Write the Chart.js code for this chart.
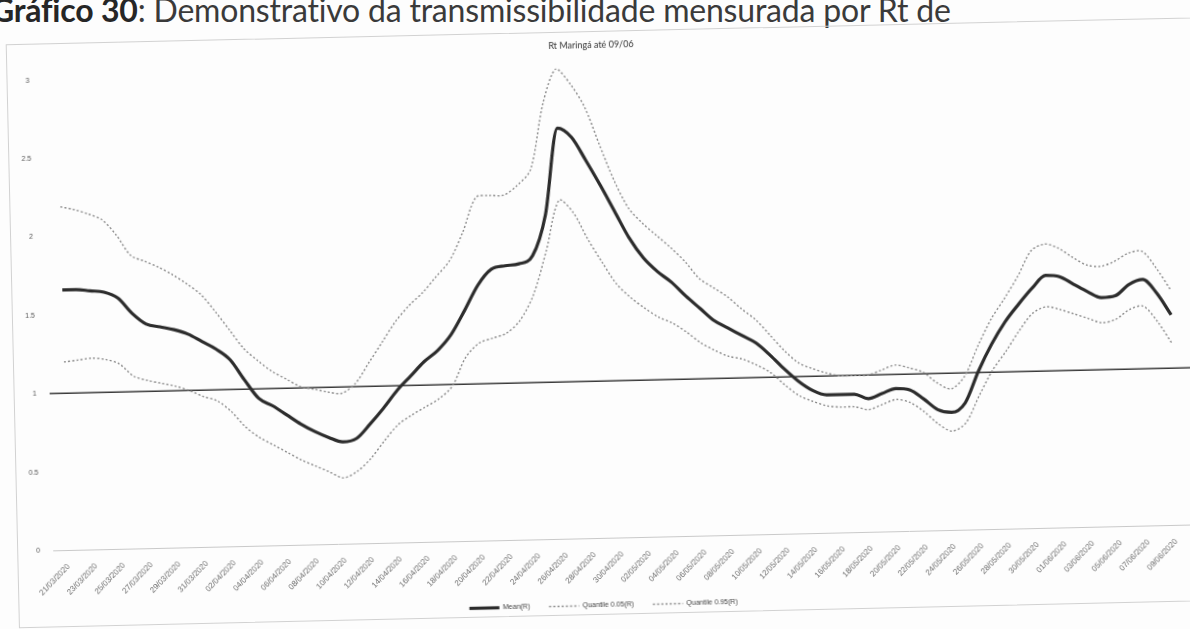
<!DOCTYPE html>
<html lang="pt-BR">
<head>
<meta charset="utf-8">
<title>Rt Maringá até 09/06</title>
<script src="https://cdn.jsdelivr.net/npm/chart.js@4.4.1/dist/chart.umd.min.js"></script>
<style>
  html, body { margin: 0; padding: 0; width: 1190px; height: 629px; overflow: hidden; background: #fdfdfd; }
  #page { position: relative; width: 1190px; height: 629px; overflow: hidden; background: #fdfdfd; }
  #cap { position: absolute; left: -9px; top: -10px; font-family: Lato, "Open Sans", sans-serif; font-size: 32px;
         color: #3a3a3a; white-space: nowrap; letter-spacing: -0.2px; }
  #cap b { font-weight: 700; color: #262626; }
  /* the printed sheet sits slightly tilted on the page */
  #sheet { position: absolute; left: 0; top: 0; width: 1190px; height: 629px;
           transform: rotate(-1.3deg); transform-origin: 595px 315px; }
  #frame { position: absolute; left: 12px; top: 31px; width: 1230px; height: 582px; border: 1px solid #d2d2d2; }
  #rt { position: absolute; left: 0; top: 0; }
</style>
</head>
<body>
<div id="page">
  <div id="cap"><b>Gráfico 30</b>: Demonstrativo da transmissibilidade mensurada por Rt de</div>
  <div id="sheet">
    <div id="frame"></div>
    <canvas id="rt" width="1190" height="629"></canvas>
  </div>
</div>
<script>
// Daily estimates, 21/03/2020 – 09/06/2020
const dates = [
  '21/03/2020','22/03/2020','23/03/2020','24/03/2020','25/03/2020','26/03/2020','27/03/2020','28/03/2020',
  '29/03/2020','30/03/2020','31/03/2020','01/04/2020','02/04/2020','03/04/2020','04/04/2020','05/04/2020',
  '06/04/2020','07/04/2020','08/04/2020','09/04/2020','10/04/2020','11/04/2020','12/04/2020','13/04/2020',
  '14/04/2020','15/04/2020','16/04/2020','17/04/2020','18/04/2020','19/04/2020','20/04/2020','21/04/2020',
  '22/04/2020','23/04/2020','24/04/2020','25/04/2020','26/04/2020','27/04/2020','28/04/2020','29/04/2020',
  '30/04/2020','01/05/2020','02/05/2020','03/05/2020','04/05/2020','05/05/2020','06/05/2020','07/05/2020',
  '08/05/2020','09/05/2020','10/05/2020','11/05/2020','12/05/2020','13/05/2020','14/05/2020','15/05/2020',
  '16/05/2020','17/05/2020','18/05/2020','19/05/2020','20/05/2020','21/05/2020','22/05/2020','23/05/2020',
  '24/05/2020','25/05/2020','26/05/2020','27/05/2020','28/05/2020','29/05/2020','30/05/2020','31/05/2020',
  '01/06/2020','02/06/2020','03/06/2020','04/06/2020','05/06/2020','06/06/2020','07/06/2020','08/06/2020',
  '09/06/2020'
];

const meanR = [
  1.66, 1.66, 1.65, 1.64, 1.60, 1.50, 1.43, 1.41, 1.39, 1.36,
  1.31, 1.26, 1.19, 1.06, 0.94, 0.89, 0.83, 0.77, 0.72, 0.68,
  0.65, 0.67, 0.76, 0.86, 0.97, 1.06, 1.15, 1.22, 1.32, 1.47,
  1.63, 1.73, 1.75, 1.76, 1.81, 2.07, 2.62, 2.56, 2.41, 2.25,
  2.08, 1.91, 1.78, 1.69, 1.62, 1.53, 1.45, 1.37, 1.32, 1.27,
  1.22, 1.14, 1.05, 0.97, 0.91, 0.88, 0.88, 0.88, 0.85, 0.88,
  0.91, 0.90, 0.84, 0.77, 0.75, 0.81, 1.01, 1.18, 1.32, 1.43,
  1.53, 1.61, 1.60, 1.55, 1.50, 1.46, 1.47, 1.54, 1.57, 1.48,
  1.34
];

const q05 = [
  1.20, 1.21, 1.22, 1.21, 1.18, 1.10, 1.07, 1.05, 1.03, 1.00,
  0.96, 0.93, 0.86, 0.76, 0.69, 0.64, 0.59, 0.54, 0.50, 0.46,
  0.42, 0.46, 0.54, 0.65, 0.75, 0.81, 0.86, 0.91, 0.99, 1.17,
  1.26, 1.29, 1.32, 1.40, 1.56, 1.84, 2.16, 2.08, 1.91, 1.76,
  1.62, 1.53, 1.46, 1.40, 1.36, 1.30, 1.23, 1.18, 1.14, 1.12,
  1.08, 1.03, 0.95, 0.88, 0.84, 0.81, 0.80, 0.80, 0.78, 0.81,
  0.84, 0.82, 0.76, 0.68, 0.63, 0.68, 0.85, 1.01, 1.13, 1.26,
  1.37, 1.41, 1.39, 1.36, 1.33, 1.30, 1.32, 1.38, 1.40, 1.30,
  1.16
];

const q95 = [
  2.19, 2.17, 2.14, 2.10, 2.00, 1.87, 1.83, 1.79, 1.74, 1.68,
  1.61, 1.50, 1.38, 1.26, 1.18, 1.11, 1.06, 1.01, 0.99, 0.97,
  0.96, 1.02, 1.15, 1.28, 1.41, 1.51, 1.59, 1.69, 1.79, 1.97,
  2.19, 2.20, 2.20, 2.26, 2.36, 2.78, 3.00, 2.90, 2.75, 2.51,
  2.28, 2.10, 2.00, 1.92, 1.84, 1.75, 1.64, 1.58, 1.52, 1.44,
  1.37, 1.27, 1.17, 1.09, 1.05, 1.02, 1.00, 1.00, 1.00, 1.03,
  1.06, 1.04, 1.01, 0.94, 0.90, 0.98, 1.17, 1.34, 1.47, 1.61,
  1.77, 1.81, 1.78, 1.72, 1.67, 1.66, 1.69, 1.74, 1.75, 1.64,
  1.50
];

const yTicks = [0, 0.5, 1, 1.5, 2, 2.5, 3];
const REF_LEVEL = 1;   // Rt = 1 threshold

// Baseline at zero and the Rt = 1 threshold, both running past the plotted span
const refLines = {
  id: 'refLines',
  beforeDatasetsDraw(chart) {
    const { ctx, chartArea, scales: { y } } = chart;
    ctx.save();
    const y0 = Math.round(y.getPixelForValue(0)) + 0.5;
    ctx.strokeStyle = '#c9c9c9';
    ctx.lineWidth = 1;
    ctx.beginPath();
    ctx.moveTo(chartArea.left - 15, y0);
    ctx.lineTo(chart.width, y0);
    ctx.stroke();

    const y1 = y.getPixelForValue(REF_LEVEL);
    ctx.strokeStyle = '#3a3a3a';
    ctx.lineWidth = 1.6;
    ctx.beginPath();
    ctx.moveTo(chartArea.left - 15, y1);
    ctx.lineTo(chart.width, y1);
    ctx.stroke();
    ctx.restore();
  }
};

const dotted = (label, data) => ({
  label, data,
  borderColor: '#8a8a8a',
  borderWidth: 1.4,
  borderDash: [2, 2.2],
  pointRadius: 0,
  tension: 0.3,
  fill: false
});

// legend samples take the line style of each series
const legendLabels = chart =>
  Chart.defaults.plugins.legend.labels.generateLabels(chart).map(item => {
    const ds = chart.data.datasets[item.datasetIndex];
    item.lineDash = ds.borderDash || [];
    item.lineWidth = ds.borderWidth;
    item.strokeStyle = ds.borderColor;
    item.fillStyle = ds.borderColor;
    return item;
  });

new Chart(document.getElementById('rt'), {
  type: 'line',
  data: {
    labels: dates,
    datasets: [
      {
        label: 'Mean(R)', data: meanR,
        borderColor: '#2c2c2c', borderWidth: 3.2,
        pointRadius: 0, cubicInterpolationMode: 'monotone', fill: false
      },
      dotted('Quantile 0.05(R)', q05),
      dotted('Quantile 0.95(R)', q95)
    ]
  },
  options: {
    responsive: false,
    animation: false,
    layout: { padding: { left: 23, right: 19, top: 30, bottom: 10 } },
    plugins: {
      title: {
        display: true, text: 'Rt Maringá até 09/06', color: '#333',
        font: { family: 'Lato, "Liberation Sans", sans-serif', size: 9, weight: 'normal' },
        padding: { top: 10, bottom: 17 }
      },
      legend: {
        position: 'bottom',
        labels: {
          usePointStyle: true, pointStyle: 'line', pointStyleWidth: 30, boxHeight: 6,
          generateLabels: legendLabels,
          font: { family: '"Liberation Sans", sans-serif', size: 7 }, color: '#444', padding: 19
        }
      },
      tooltip: { enabled: false }
    },
    scales: {
      x: {
        grid: { display: false }, border: { display: false },
        ticks: {
          autoSkip: false, maxRotation: 45, minRotation: 45, padding: 4,
          font: { family: '"Liberation Sans", sans-serif', size: 8 }, color: '#6e6e6e',
          callback: (v, i) => (i % 2 === 0 ? dates[i] : '')
        },
        afterFit: s => { s.height = 45; }
      },
      y: {
        min: yTicks[0], max: yTicks[yTicks.length - 1],
        afterBuildTicks: s => { s.ticks = yTicks.map(v => ({ value: v })); },
        grid: { display: false, drawTicks: false }, border: { display: false },
        ticks: {
          font: { family: '"Liberation Sans", sans-serif', size: 7 }, color: '#555', padding: 28,
          callback: v => String(v)
        },
        afterFit: s => { s.width = 40; }
      }
    }
  },
  plugins: [refLines]
});
</script>
</body>
</html>
